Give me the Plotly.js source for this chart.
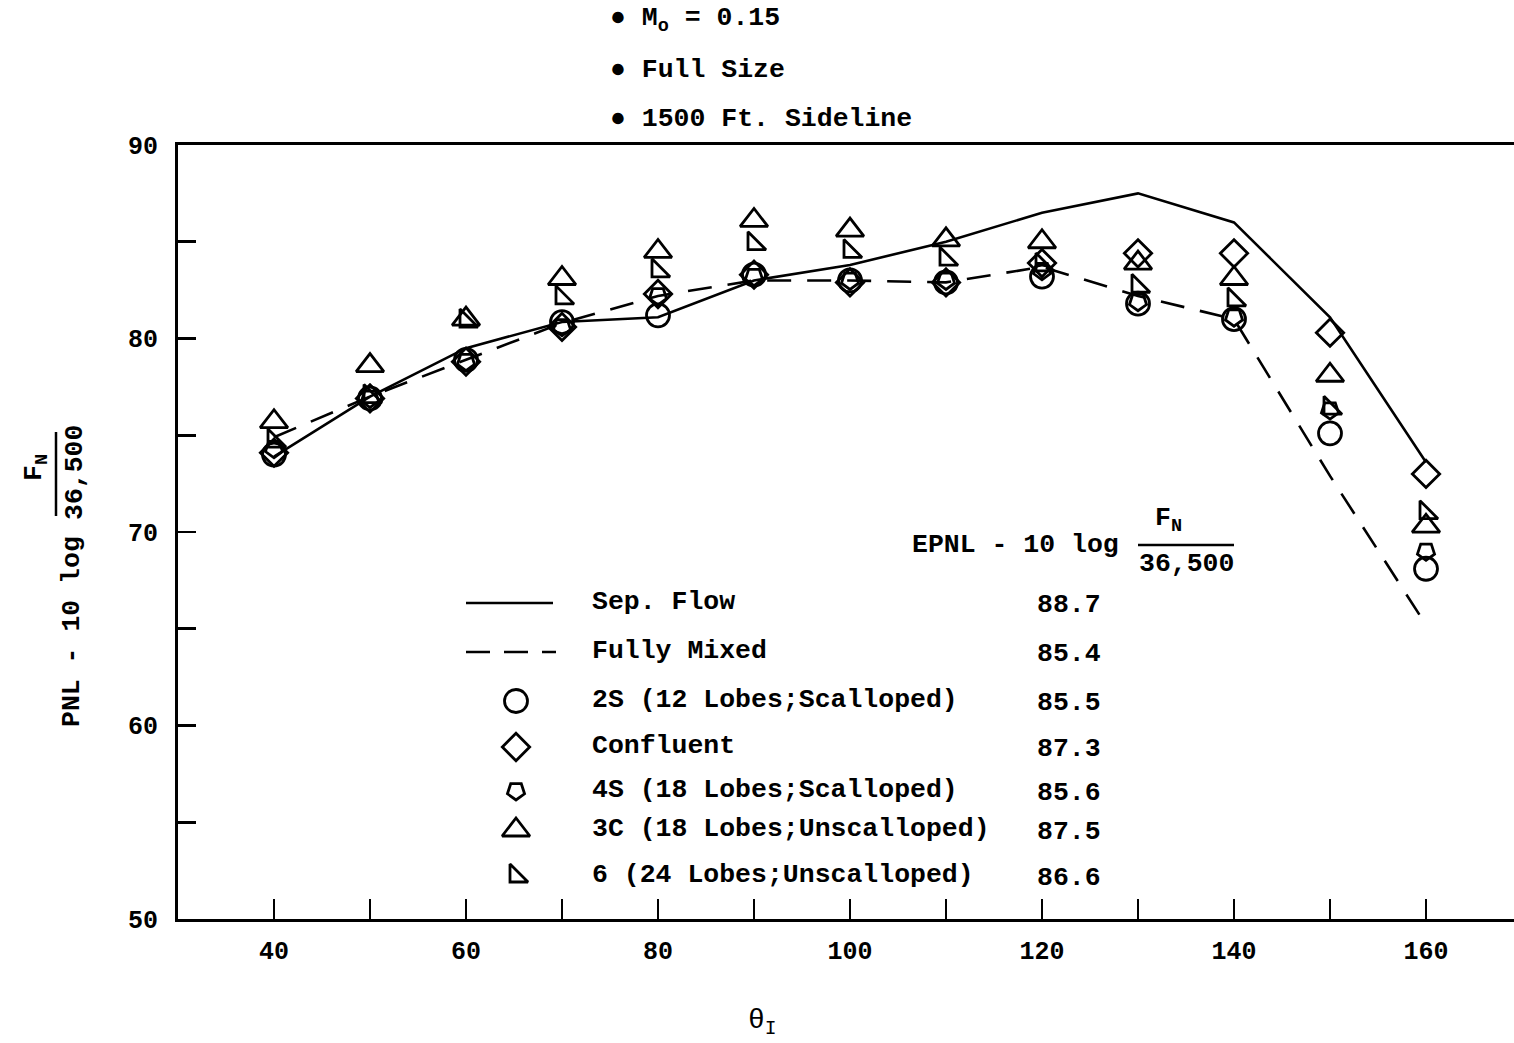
<!DOCTYPE html>
<html>
<head>
<meta charset="utf-8">
<script src="https://cdn.plot.ly/plotly-3.0.1.min.js"></script>
<style>html,body{margin:0;padding:0;background:#fff;}#chart{width:1514px;height:1043px;}</style>
</head>
<body>
<div id="chart"></div>
<script>
// ---- data ----
var theta = [40, 50, 60, 70, 80, 90, 100, 110, 120, 130, 140, 150, 160];
var sepFlow    = [73.9, 77.0, 79.5, 80.85, 81.1, 83.0, 83.8, 85.0, 86.5, 87.5, 86.0, 81.1, 73.6];
var fullyMixed = [74.9, 77.0, 78.9, 80.8, 82.2, 83.0, 83.0, 82.9, 83.7, 82.2, 81.0, 72.9, 65.2];
var s2S        = [74.0, 76.9, 78.9, 80.85, 81.2, 83.3, 83.0, 82.9, 83.2, 81.8, 81.0, 75.1, 68.1];
var confluent  = [74.1, 76.9, 78.8, 80.6, 82.3, 83.3, 82.9, 82.9, 83.9, 84.4, 84.4, 80.3, 73.0];
var s4S        = [74.3, 76.9, 78.8, 80.6, 82.2, 83.2, 83.0, 83.0, 83.5, 81.9, 81.1, 76.3, 69.0];
var s3C        = [75.7, 78.6, 81.0, 83.1, 84.5, 86.1, 85.6, 85.1, 85.0, 83.9, 83.1, 78.1, 70.3];
var s6         = [74.7, 77.0, 80.9, 82.1, 83.5, 84.9, 84.5, 84.1, 83.8, 82.7, 82.0, 76.4, 71.0];

var legendLabels = ["Sep. Flow", "Fully Mixed", "2S (12 Lobes;Scalloped)", "Confluent",
                    "4S (18 Lobes;Scalloped)", "3C (18 Lobes;Unscalloped)", "6 (24 Lobes;Unscalloped)"];
var epnlValues = ["88.7", "85.4", "85.5", "87.3", "85.6", "87.5", "86.6"];
var notes = ["M<sub>o</sub> = 0.15", "Full Size", "1500 Ft. Sideline"];

// ---- geometry helpers (pixel -> paper) ----
var W = 1514, H = 1043, L = 178, R = 0, T = 145, B = 124;
var PW = W - L - R, PH = H - T - B;
function px(x){ return (x - L) / PW; }
function py(y){ return 1 - (y - T) / PH; }

var FONT = "Liberation Mono, DejaVu Sans Mono, monospace";
var K = "#000";
var lw = 2.6;
var FS = 26.5;

var markerStyles = [
  {symbol: "circle-open", size: 23},
  {symbol: "diamond-open", size: 21},
  {symbol: "pentagon-open", size: 18, angle: 180},
  {symbol: "triangle-up-open", size: 24},
  {symbol: "triangle-sw-open", size: 20}
];
var markerSeries = [s2S, confluent, s4S, s3C, s6];

var traces = [];
traces.push({x: theta, y: sepFlow, mode: "lines", line: {color: K, width: lw}, hoverinfo: "skip"});
traces.push({x: theta, y: fullyMixed, mode: "lines", line: {color: K, width: lw, dash: "24px,16px"}, hoverinfo: "skip"});
markerSeries.forEach(function(s, i){
  var m = markerStyles[i];
  var mk = {symbol: m.symbol, size: m.size, color: K, line: {color: K, width: 2.8}};
  if (m.angle) mk.angle = m.angle;
  traces.push({x: theta, y: s, mode: "markers", marker: mk, hoverinfo: "skip", cliponaxis: false});
});

// ---- custom legend on overlay axes (0..1 = plot area) ----
var legRowsY = [603, 652, 701, 747, 791, 830, 876];
traces.push({x: [px(466), px(553)], y: [py(legRowsY[0]), py(legRowsY[0])], xaxis: "x2", yaxis: "y2",
  mode: "lines", line: {color: K, width: lw}, hoverinfo: "skip"});
traces.push({x: [px(466), px(556)], y: [py(legRowsY[1]), py(legRowsY[1])], xaxis: "x2", yaxis: "y2",
  mode: "lines", line: {color: K, width: lw, dash: "24px,14px"}, hoverinfo: "skip"});
markerStyles.forEach(function(m, i){
  var mk = {symbol: m.symbol, size: m.size, color: K, line: {color: K, width: 2.8}};
  if (m.angle) mk.angle = m.angle;
  traces.push({x: [px(516)], y: [py(legRowsY[i + 2])], xaxis: "x2", yaxis: "y2",
    mode: "markers", marker: mk, hoverinfo: "skip"});
});

var annotations = [];
function txt(t, x, y, opts){
  var a = {text: t, xref: "paper", yref: "paper", x: px(x), y: py(y), showarrow: false,
    xanchor: "left", yanchor: "middle", font: {family: FONT, size: FS, color: K, weight: "bold"}};
  for (var k in opts) a[k] = opts[k];
  annotations.push(a);
}
legendLabels.forEach(function(l, i){ txt(l, 590, legRowsY[i] - 1); });
epnlValues.forEach(function(v, i){ txt(v, 1035, legRowsY[i] + 2); });
txt("EPNL - 10 log", 910, 545);
txt("F<sub>N</sub>", 1168, 520, {xanchor: "center"});
txt("36,500", 1186, 564, {xanchor: "center"});
var notesY = [20, 70, 119];
notes.forEach(function(n, i){ txt("\u25CF " + n, 608, notesY[i]); });
txt("PNL - 10 log", 72, 632, {xanchor: "center", textangle: -90});
txt("36,500", 75, 473, {xanchor: "center", textangle: -90});
txt("F<sub>N</sub>", 36, 468, {xanchor: "center", textangle: -90});
txt("\u03B8<sub>I</sub>", 762, 1022, {xanchor: "center", font: {family: FONT, size: 28, color: K}});

var shapes = [
  {type: "line", xref: "paper", yref: "paper", x0: px(1138), x1: px(1234), y0: py(545), y1: py(545), line: {color: K, width: 2.5}},
  {type: "line", xref: "paper", yref: "paper", x0: px(56), x1: px(56), y0: py(432), y1: py(516), line: {color: K, width: 2.5}}
];

var layout = {
  width: W, height: H,
  margin: {l: L, r: R, t: T, b: B, pad: 0},
  paper_bgcolor: "#fff", plot_bgcolor: "#fff",
  showlegend: false,
  font: {family: FONT, size: 25, color: K},
  xaxis: {
    range: [30, 30 + PW / 9.6], showgrid: false, zeroline: false,
    showline: true, linecolor: K, linewidth: 3, mirror: true,
    tickmode: "linear", tick0: 40, dtick: 20,
    ticks: "inside", ticklen: 20, tickwidth: 2.6, tickcolor: K,
    minor: {tickmode: "linear", tick0: 50, dtick: 20, ticks: "inside", ticklen: 20, tickwidth: 2.6, tickcolor: K},
    ticklabelstandoff: 7,
    tickfont: {family: FONT, size: 25, color: K, weight: "bold"}
  },
  yaxis: {
    range: [50, 90], showgrid: false, zeroline: false,
    showline: true, linecolor: K, linewidth: 3,
    tickmode: "linear", tick0: 50, dtick: 10,
    ticks: "inside", ticklen: 18, tickwidth: 2.6, tickcolor: K,
    minor: {tickmode: "linear", tick0: 55, dtick: 10, ticks: "inside", ticklen: 18, tickwidth: 2.6, tickcolor: K},
    ticklabelstandoff: 12,
    tickfont: {family: FONT, size: 25, color: K, weight: "bold"}
  },
  xaxis2: {overlaying: "x", range: [0, 1], visible: false, fixedrange: true, anchor: "y2"},
  yaxis2: {overlaying: "y", range: [0, 1], visible: false, fixedrange: true, anchor: "x2"},
  annotations: annotations,
  shapes: shapes
};

Plotly.newPlot("chart", traces, layout, {displayModeBar: false, staticPlot: true});
</script>
</body>
</html>
